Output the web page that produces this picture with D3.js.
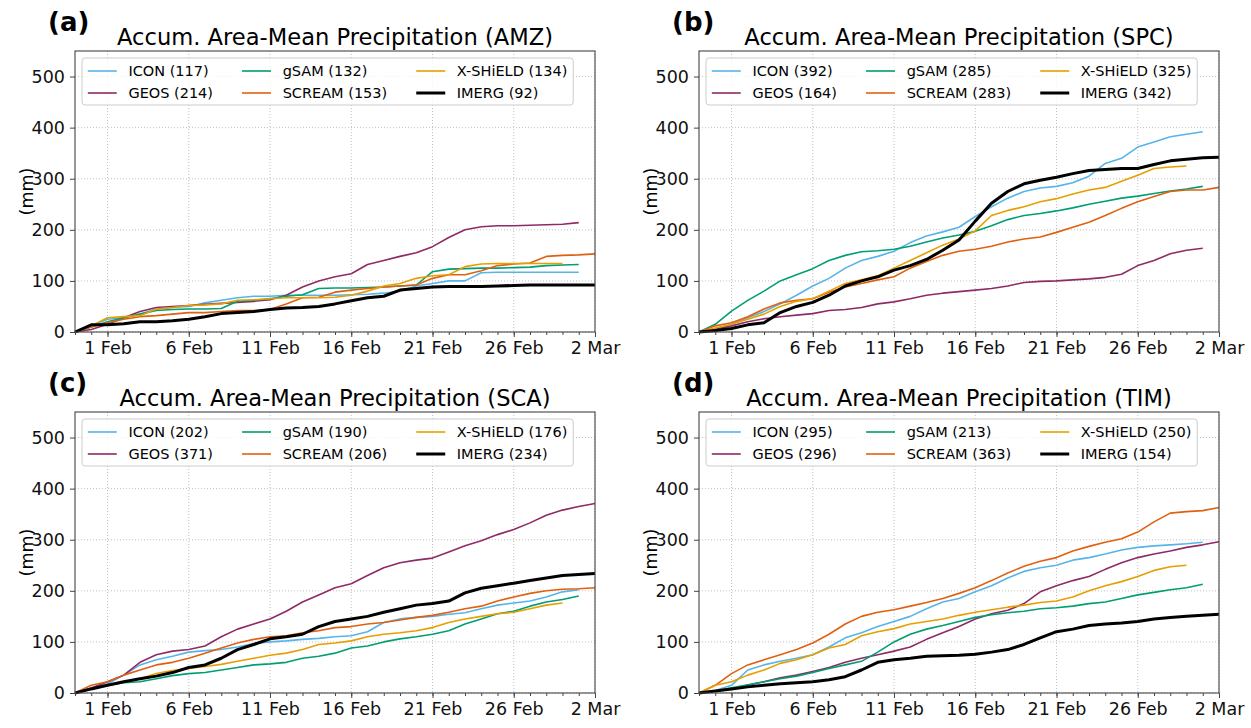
<!DOCTYPE html>
<html>
<head>
<meta charset="utf-8">
<script src="https://cdn.jsdelivr.net/npm/d3@7"></script>
<style>
  body { margin: 0; background: #fff; }
  text { font-family: "DejaVu Sans", sans-serif; }
</style>
</head>
<body>
<div id="chart"></div>
<script>
const width = 1251;
const height = 728;

// daily accumulated precipitation (mm), first value = 30 Jan 2020 00 UTC
const models = ["ICON", "GEOS", "gSAM", "SCREAM", "X-SHiELD", "IMERG"];
const colors = ["#56B4E9", "#8E2A66", "#009E73", "#E0600F", "#E69F00", "#000000"];
const regions = ["AMZ", "SPC", "SCA", "TIM"];
const panelTags = ["(a)", "(b)", "(c)", "(d)"];
const tickLabels = ["2020-02-01", "2020-02-06", "2020-02-11", "2020-02-16", "2020-02-21", "2020-02-26", "2020-03-02"];
const yTicks = [0, 100, 200, 300, 400, 500];

// AMZ
const amzICON   = [0, 12, 25, 28, 35, 45, 48, 50, 57, 62, 67, 70, 70, 72, 72, 72, 72, 73, 74, 76, 80, 90, 95, 100, 100, 116, 117, 117, 117, 117, 117, 117];
const amzGEOS   = [0, 5, 15, 28, 40, 48, 50, 52, 54, 56, 58, 60, 63, 72, 88, 100, 108, 114, 132, 140, 148, 155, 167, 185, 200, 206, 208, 208, 209, 210, 211, 214];
const amzGSAM   = [0, 10, 20, 28, 35, 42, 44, 45, 45, 46, 60, 62, 65, 70, 73, 85, 86, 86, 87, 88, 90, 92, 118, 123, 124, 125, 125, 126, 127, 130, 131, 132];
const amzSCREAM = [0, 10, 18, 25, 30, 32, 35, 38, 38, 40, 42, 42, 44, 55, 67, 68, 78, 82, 85, 88, 90, 92, 105, 112, 112, 120, 130, 133, 135, 148, 150, 151, 153];
const amzSHIELD = [0, 12, 28, 30, 32, 45, 48, 52, 53, 55, 62, 63, 65, 67, 67, 67, 68, 72, 80, 90, 95, 105, 110, 112, 128, 133, 134, 134, 134, 134, 134];
const amzIMERG  = [0, 14, 14, 16, 20, 20, 22, 25, 30, 36, 38, 40, 44, 47, 48, 50, 55, 61, 67, 70, 82, 85, 88, 89, 89, 89, 90, 91, 92, 92, 92, 92, 92];

// SPC
const spcICON   = [0, 5, 15, 28, 40, 55, 72, 90, 105, 125, 140, 148, 158, 175, 188, 196, 205, 226, 245, 262, 275, 282, 285, 292, 305, 330, 340, 362, 372, 382, 387, 392];
const spcGEOS   = [0, 5, 12, 20, 26, 30, 33, 36, 42, 44, 48, 55, 59, 65, 72, 76, 79, 82, 85, 90, 97, 99, 100, 102, 104, 107, 113, 130, 140, 153, 160, 164];
const spcGSAM   = [0, 15, 41, 62, 80, 100, 112, 124, 140, 150, 157, 159, 162, 168, 176, 184, 190, 197, 208, 220, 228, 232, 237, 243, 250, 256, 262, 266, 271, 276, 280, 285];
const spcSCREAM = [0, 12, 18, 30, 45, 57, 62, 65, 78, 88, 95, 102, 108, 125, 138, 150, 158, 162, 168, 176, 182, 186, 195, 205, 215, 228, 242, 255, 265, 275, 278, 278, 283];
const spcSHIELD = [0, 8, 15, 25, 35, 50, 60, 65, 80, 95, 102, 110, 125, 140, 155, 170, 182, 198, 228, 238, 245, 255, 261, 270, 278, 283, 295, 307, 320, 323, 325];
const spcIMERG  = [0, 3, 7, 14, 18, 38, 50, 58, 72, 90, 100, 108, 121, 130, 142, 160, 180, 217, 252, 275, 290, 297, 303, 310, 316, 318, 320, 320, 328, 335, 338, 341, 342];

// SCA
const scaICON   = [0, 10, 18, 35, 55, 65, 72, 80, 83, 85, 90, 97, 100, 102, 105, 107, 110, 112, 120, 138, 145, 148, 150, 154, 157, 165, 172, 176, 180, 188, 198, 202];
const scaGEOS   = [0, 10, 22, 35, 60, 75, 82, 85, 92, 110, 125, 135, 145, 160, 178, 192, 206, 214, 230, 245, 255, 260, 264, 276, 288, 298, 310, 320, 333, 348, 358, 365, 371];
const scaGSAM   = [0, 8, 15, 20, 22, 28, 34, 38, 40, 45, 50, 55, 57, 60, 68, 72, 78, 88, 92, 100, 106, 110, 115, 122, 135, 145, 155, 160, 170, 178, 183, 190];
const scaSCREAM = [0, 15, 22, 35, 45, 55, 60, 68, 78, 88, 98, 105, 110, 112, 118, 122, 128, 130, 135, 138, 143, 148, 152, 158, 165, 170, 180, 188, 195, 200, 203, 204, 206];
const scaSHIELD = [0, 8, 15, 22, 28, 38, 44, 48, 52, 56, 62, 68, 74, 78, 85, 95, 98, 102, 110, 115, 118, 122, 128, 138, 145, 150, 155, 158, 165, 172, 176];
const scaIMERG  = [0, 8, 15, 22, 28, 33, 40, 50, 55, 68, 85, 95, 106, 110, 115, 130, 140, 145, 150, 158, 165, 172, 175, 180, 196, 205, 210, 215, 220, 225, 230, 232, 234];

// TIM
const timICON   = [0, 5, 15, 45, 55, 62, 68, 75, 90, 108, 118, 130, 140, 150, 165, 178, 185, 198, 210, 225, 238, 245, 250, 260, 265, 272, 280, 285, 288, 290, 292, 295];
const timGEOS   = [0, 4, 8, 15, 22, 30, 35, 42, 50, 60, 68, 75, 82, 90, 105, 118, 130, 145, 155, 162, 175, 198, 210, 220, 228, 242, 255, 265, 272, 278, 285, 290, 296];
const timGSAM   = [0, 4, 10, 16, 22, 28, 33, 40, 48, 55, 62, 80, 100, 115, 125, 132, 140, 148, 153, 157, 160, 165, 167, 170, 175, 178, 185, 192, 197, 202, 206, 213];
const timSCREAM = [0, 15, 38, 55, 65, 75, 85, 98, 115, 135, 150, 158, 163, 170, 177, 185, 195, 206, 220, 235, 248, 258, 265, 278, 287, 295, 302, 315, 335, 352, 355, 357, 363];
const timSHIELD = [0, 15, 22, 35, 45, 58, 65, 75, 88, 95, 112, 120, 126, 135, 140, 145, 152, 158, 163, 168, 172, 177, 180, 188, 200, 210, 218, 228, 240, 247, 250];
const timIMERG  = [0, 4, 8, 12, 15, 18, 20, 22, 26, 32, 45, 60, 65, 68, 72, 73, 74, 76, 80, 85, 95, 108, 120, 125, 132, 135, 137, 140, 145, 148, 150, 152, 154];

// legend totals
const totalsAMZ = [117, 214, 132, 153, 134, 92];
const totalsSPC = [392, 164, 285, 283, 325, 342];
const totalsSCA = [202, 371, 190, 206, 176, 234];
const totalsTIM = [295, 296, 213, 363, 250, 154];

const series = [
  [amzICON, amzGEOS, amzGSAM, amzSCREAM, amzSHIELD, amzIMERG],
  [spcICON, spcGEOS, spcGSAM, spcSCREAM, spcSHIELD, spcIMERG],
  [scaICON, scaGEOS, scaGSAM, scaSCREAM, scaSHIELD, scaIMERG],
  [timICON, timGEOS, timGSAM, timSCREAM, timSHIELD, timIMERG]
];
const totals = [totalsAMZ, totalsSPC, totalsSCA, totalsTIM];

const start = new Date(Date.UTC(2020, 0, 30));
const end = new Date(Date.UTC(2020, 2, 2));
const day = i => d3.utcDay.offset(start, i);

const pw = 520, ph = 281;
const lefts = [75, 699];
const tops = [51, 412];

const svg = d3.select("#chart")
  .append("svg")
    .attr("width", width)
    .attr("height", height)
    .style("display", "block");

const x = d3.scaleUtc().domain([start, end]).range([0, pw]);
const y = d3.scaleLinear().domain([0, 550]).range([ph, 0]);
const fmt = d3.utcFormat("%-d %b");
const parse = d3.utcParse("%Y-%m-%d");
const majorDates = tickLabels.map(parse);

const fs = 14.5; // legend font size

// measure text widths for legend layout
const measure = svg.append("text").style("font-size", fs + "px");
function textWidth(s) {
  measure.text(s);
  return measure.node().getComputedTextLength();
}

regions.forEach((region, p) => {
  const g = svg.append("g")
      .attr("transform", `translate(${lefts[p % 2]},${tops[Math.floor(p / 2)]})`);

  // grid
  g.append("g")
    .selectAll("line")
    .data(majorDates)
    .join("line")
      .attr("x1", d => x(d)).attr("x2", d => x(d))
      .attr("y1", 0).attr("y2", ph)
      .attr("stroke", "#b0b0b0")
      .attr("stroke-width", 0.8)
      .attr("stroke-dasharray", "1,2");
  g.append("g")
    .selectAll("line")
    .data(yTicks)
    .join("line")
      .attr("x1", 0).attr("x2", pw)
      .attr("y1", d => y(d)).attr("y2", d => y(d))
      .attr("stroke", "#b0b0b0")
      .attr("stroke-width", 0.8)
      .attr("stroke-dasharray", "1,2");

  // lines
  const line = d3.line()
      .x((d, i) => x(day(i)))
      .y(d => y(d));
  g.append("g")
    .selectAll("path")
    .data(series[p])
    .join("path")
      .attr("fill", "none")
      .attr("stroke", (d, i) => colors[i])
      .attr("stroke-width", (d, i) => models[i] === "IMERG" ? 3 : 1.6)
      .attr("stroke-linejoin", "round")
      .attr("d", line);

  // axes
  g.append("g")
      .attr("transform", `translate(0,${ph})`)
      .call(d3.axisBottom(x).tickValues(majorDates).tickFormat(fmt).tickSizeInner(5).tickSizeOuter(0).tickPadding(5));
  g.append("g")
      .attr("transform", `translate(0,${ph})`)
      .call(d3.axisBottom(x).tickValues(d3.utcDay.range(start, end)).tickFormat("").tickSizeInner(3).tickSizeOuter(0));
  g.append("g")
      .call(d3.axisLeft(y).tickValues(yTicks).tickSizeInner(5).tickSizeOuter(0).tickPadding(5));
  g.selectAll(".tick text").style("font-size", "17.5px").attr("fill", "#111");
  g.selectAll(".tick line").attr("stroke", "#444");
  g.selectAll(".domain").remove();

  g.append("rect")
      .attr("width", pw).attr("height", ph)
      .attr("fill", "none")
      .attr("stroke", "#444")
      .attr("stroke-width", 1.1);

  // labels
  g.append("text")
      .attr("transform", `translate(-48,${ph / 2}) rotate(-90)`)
      .attr("text-anchor", "middle")
      .attr("dominant-baseline", "central")
      .style("font-size", "17.5px")
      .text("(mm)");
  g.append("text")
      .attr("x", pw / 2).attr("y", -6)
      .attr("text-anchor", "middle")
      .style("font-size", "22.6px")
      .text(`Accum. Area-Mean Precipitation (${region})`);
  g.append("text")
      .attr("x", -27).attr("y", -20)
      .style("font-size", "26px")
      .style("font-weight", "bold")
      .text(panelTags[p]);

  // legend: 3 columns x 2 rows, column-major like matplotlib
  const labels = models.map((m, i) => `${m} (${totals[p][i]})`);
  const colW = [0, 1, 2].map(c => Math.max(textWidth(labels[c * 2]), textWidth(labels[c * 2 + 1])));
  const pad = 0.4 * fs, handle = 2 * fs, hpad = 0.8 * fs, cspace = 2 * fs;
  const colX = [];
  let cx = pad;
  colW.forEach(w => { colX.push(cx); cx += handle + hpad + w + cspace; });
  const boxW = cx - cspace + pad;
  const boxH = 47;
  const leg = g.append("g").attr("transform", "translate(7,7)");
  leg.append("rect")
      .attr("width", boxW).attr("height", boxH)
      .attr("rx", 3)
      .attr("fill", "#fff").attr("fill-opacity", 0.8)
      .attr("stroke", "#cccccc");
  models.forEach((m, i) => {
    const c = Math.floor(i / 2), r = i % 2;
    const yy = 13 + r * 22;
    leg.append("line")
        .attr("x1", colX[c]).attr("x2", colX[c] + handle)
        .attr("y1", yy).attr("y2", yy)
        .attr("stroke", colors[i])
        .attr("stroke-width", m === "IMERG" ? 3 : 1.6);
    leg.append("text")
        .attr("x", colX[c] + handle + hpad).attr("y", yy)
        .attr("dominant-baseline", "central")
        .style("font-size", fs + "px")
        .text(labels[i]);
  });
});

measure.remove();
</script>
</body>
</html>
